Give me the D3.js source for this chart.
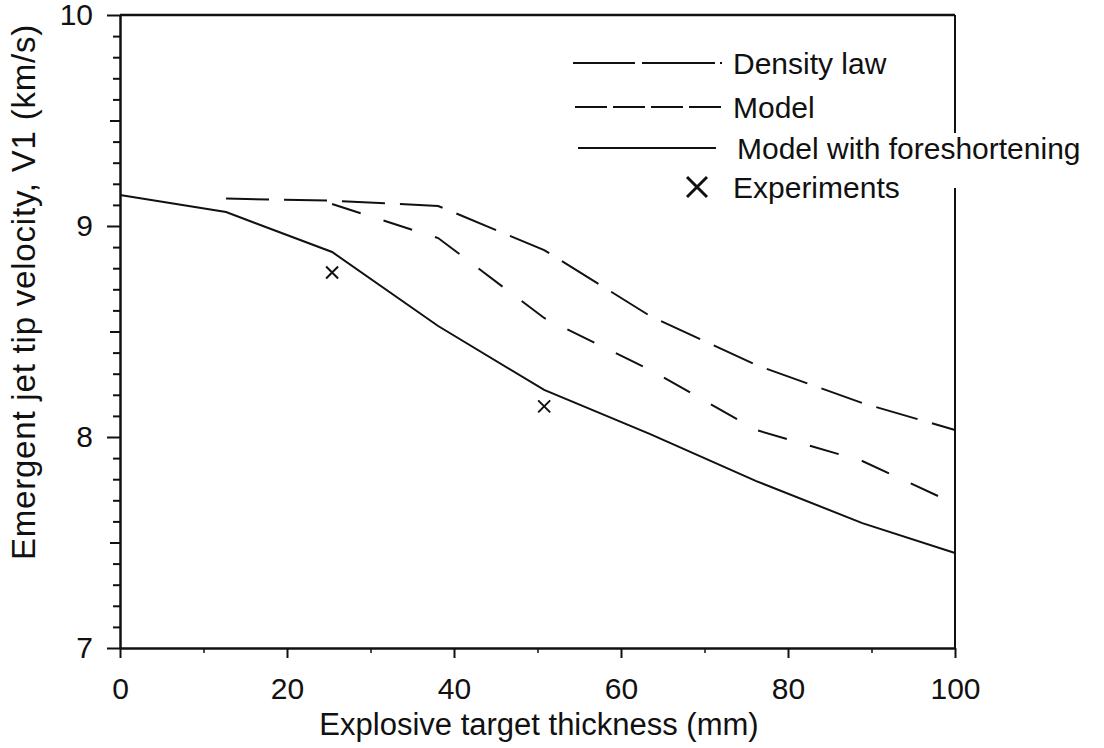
<!DOCTYPE html>
<html>
<head>
<meta charset="utf-8">
<script src="https://cdn.jsdelivr.net/npm/d3@7"></script>
<style>
  body { margin: 0; background: #fff; }
  text { font-family: "Liberation Sans", Arial, Helvetica, sans-serif; fill: #111; }
</style>
</head>
<body>
<div id="chart"></div>
<script>
// thickness in mm (half-inch steps)
var densityX = [12.7, 25.4, 38.1, 50.8, 63.5, 76.2, 88.9, 100];
var densityV = [9.13, 9.12, 9.095, 8.886, 8.573, 8.341, 8.161, 8.033];

var modelX = [25.4, 38.1, 50.8, 63.5, 76.2, 88.9, 100];
var modelV = [9.104, 8.943, 8.564, 8.318, 8.033, 7.886, 7.683];

var foreX = [0, 12.7, 25.4, 38.1, 50.8, 63.5, 76.2, 88.9, 100];
var foreV = [9.147, 9.066, 8.877, 8.526, 8.223, 8.014, 7.791, 7.592, 7.45];

var expX = [25.4, 50.8];
var expV = [8.78, 8.145];

var xTicks = [0, 20, 40, 60, 80, 100];
var yTicks = [7, 8, 9, 10];

var W = 1104, H = 748;
var margin = {top: 15, right: 149, bottom: 100, left: 120},
    width = W - margin.left - margin.right,
    height = H - margin.top - margin.bottom;

var svg = d3.select('#chart').append('svg')
    .attr('width', W)
    .attr('height', H);

var g = svg.append('g')
    .attr('transform', 'translate(' + margin.left + ',' + margin.top + ')');

var x = d3.scaleLinear().domain([0, 100]).range([0, width]);
var y = d3.scaleLinear().domain([7, 10]).range([height, 0]);

function zip(xs, vs) { return xs.map(function(d, i) { return {x: d, v: vs[i]}; }); }

var line = d3.line()
    .x(function(d) { return x(d.x); })
    .y(function(d) { return y(d.v); });

// frame: top and right borders
g.append('line').attr('x1', 0).attr('x2', width).attr('y1', 0).attr('y2', 0)
  .style('stroke', '#111').style('stroke-width', 2.5);
g.append('line').attr('x1', width).attr('x2', width).attr('y1', 0).attr('y2', height)
  .style('stroke', '#111').style('stroke-width', 2);

// minor ticks
var yMinor = d3.range(70, 101).map(function(d) { return d / 10; });
var yMinorAxis = g.append('g')
  .call(d3.axisLeft(y).tickValues(yMinor).tickFormat('')
    .tickSize(0).tickSizeOuter(0));
yMinorAxis.selectAll('.tick line')
  .attr('x2', function(d) {
    var r = Math.round(d * 10) % 10;
    return r === 0 ? -13 : (r === 5 ? -10 : -7);
  })
  .style('stroke', '#111').style('stroke-width', 2);
yMinorAxis.select('path').remove();

var xMinorAxis = g.append('g')
  .attr('transform', 'translate(0,' + height + ')')
  .call(d3.axisBottom(x).tickValues([10, 30, 50, 70, 90]).tickFormat('').tickSize(5));
xMinorAxis.selectAll('.tick line').style('stroke', '#111').style('stroke-width', 1.5);
xMinorAxis.select('path').remove();

// x axis
var xAxis = g.append('g')
  .attr('transform', 'translate(0,' + height + ')')
  .call(d3.axisBottom(x).tickValues(xTicks).tickSize(10).tickSizeOuter(0).tickPadding(20));
xAxis.select('path').style('stroke', '#111').style('stroke-width', 2.5);
xAxis.selectAll('.tick line').style('stroke', '#111').style('stroke-width', 2);
xAxis.selectAll('text').style('font-size', '30px').attr('font-family', null);

// y axis
var yAxis = g.append('g')
  .call(d3.axisLeft(y).tickValues(yTicks).tickFormat(d3.format('d'))
    .tickSize(0).tickSizeOuter(0).tickPadding(27));
yAxis.select('path').style('stroke', '#111').style('stroke-width', 2.5);
yAxis.selectAll('text').style('font-size', '30px').attr('font-family', null);

// series lines
g.append('path').datum(zip(densityX, densityV))
  .attr('d', line)
  .style('fill', 'none').style('stroke', '#111').style('stroke-width', 2)
  .style('stroke-dasharray', '43,15');

g.append('path').datum(zip(modelX, modelV))
  .attr('d', line)
  .style('fill', 'none').style('stroke', '#111').style('stroke-width', 2)
  .style('stroke-dasharray', '30,24');

g.append('path').datum(zip(foreX, foreV))
  .attr('d', line)
  .style('fill', 'none').style('stroke', '#111').style('stroke-width', 2);

// experiment crosses
g.selectAll('.exp').data(zip(expX, expV)).enter().append('path')
  .attr('class', 'exp')
  .attr('transform', function(d) { return 'translate(' + x(d.x) + ',' + y(d.v) + ')'; })
  .attr('d', 'M-6,-6L6,6M-6,6L6,-6')
  .style('stroke', '#111').style('stroke-width', 2).style('fill', 'none');

// axis titles
svg.append('text')
  .attr('x', 539)
  .attr('y', 735)
  .attr('text-anchor', 'middle')
  .style('font-size', '31px')
  .text('Explosive target thickness (mm)');

svg.append('text')
  .attr('transform', 'translate(35,' + 292 + ') rotate(-90)')
  .attr('text-anchor', 'middle')
  .style('font-size', '33px')
  .style('letter-spacing', '0.8px')
  .text('Emergent jet tip velocity, V1 (km/s)');

// legend
var leg = svg.append('g');
leg.append('rect').attr('x', 735).attr('y', 133).attr('width', 365).attr('height', 55)
  .style('fill', '#fff');

var legItems = [
  {label: 'Density law', y: 63, x0: 573, x1: 722, dash: '62,7,73,5,2', tx: 733},
  {label: 'Model', y: 107, x0: 575, x1: 722, dash: '32,6', tx: 733},
  {label: 'Model with foreshortening', y: 148, x0: 578, x1: 716, dash: null, tx: 737}
];
legItems.forEach(function(d) {
  leg.append('line')
    .attr('x1', d.x0).attr('x2', d.x1).attr('y1', d.y).attr('y2', d.y)
    .style('stroke', '#111').style('stroke-width', 2)
    .style('stroke-dasharray', d.dash);
  leg.append('text').attr('x', d.tx).attr('y', d.y + 11)
    .style('font-size', '30px').text(d.label);
});
leg.append('path')
  .attr('transform', 'translate(697,187)')
  .attr('d', 'M-10,-10L10,10M-10,10L10,-10')
  .style('stroke', '#111').style('stroke-width', 3);
leg.append('text').attr('x', 733).attr('y', 198)
  .style('font-size', '30px').text('Experiments');
</script>
</body>
</html>
